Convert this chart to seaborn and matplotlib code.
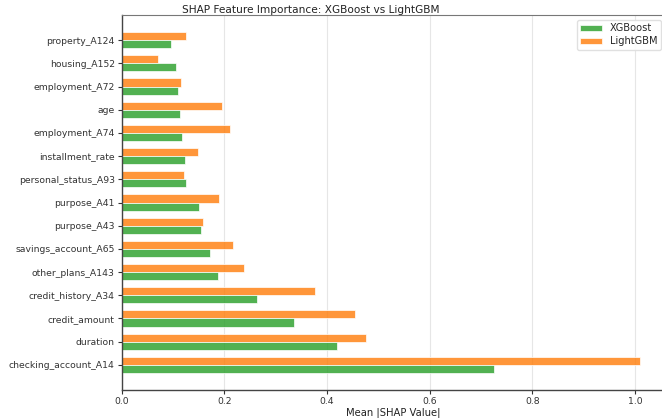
import pandas as pd
import seaborn as sns
import matplotlib.pyplot as plt

# Features, top to bottom as shown
features = [
    "property_A124", "housing_A152", "employment_A72", "age",
    "employment_A74", "installment_rate", "personal_status_A93",
    "purpose_A41", "purpose_A43", "savings_account_A65",
    "other_plans_A143", "credit_history_A34", "credit_amount",
    "duration", "checking_account_A14",
]
xgb_shap = [0.096, 0.105, 0.109, 0.114, 0.118, 0.123, 0.125, 0.151,
            0.155, 0.172, 0.188, 0.264, 0.335, 0.419, 0.726]
lgbm_shap = [0.126, 0.070, 0.116, 0.195, 0.210, 0.148, 0.121, 0.190,
             0.158, 0.216, 0.239, 0.377, 0.454, 0.475, 1.009]
models = ["XGBoost", "LightGBM"]
colors = {"XGBoost": "#2ca02c", "LightGBM": "#ff7f0e"}

# long format for seaborn
df = pd.concat([
    pd.DataFrame({"feature": features, "shap": xgb_shap, "model": "XGBoost"}),
    pd.DataFrame({"feature": features, "shap": lgbm_shap, "model": "LightGBM"}),
])

sns.set_style("ticks")
plt.rcParams["font.family"] = ["DejaVu Sans"]

fig = plt.figure(figsize=(6.62, 4.18), dpi=100)
W, H = 662, 418
ax = fig.add_axes([121.7 / W, 1 - 390 / H, 544 / W, 375 / H])

sns.barplot(data=df, y="feature", x="shap", hue="model", order=features,
            hue_order=["LightGBM", "XGBoost"], palette=colors, orient="h",
            width=0.7, saturation=1, alpha=0.82, edgecolor="white",
            linewidth=0.6, ax=ax)

ax.set_xlim(0, 1.0595)
ax.set_ylim(14 + 1.085, -1.085)
ax.set_xticks([0.0, 0.2, 0.4, 0.6, 0.8, 1.0])
ax.xaxis.grid(True, color="#e6e6e6", linewidth=0.8)
ax.set_axisbelow(True)
ax.tick_params(labelsize=6.7, colors="#333333", length=3, width=0.8, pad=2)
ax.set_ylabel("")
ax.set_xlabel("Mean |SHAP Value|", fontsize=7.2, color="#222222", labelpad=1)
for side in ["left", "bottom"]:
    ax.spines[side].set_color("#444444")
    ax.spines[side].set_linewidth(1.0)
ax.spines["top"].set_color("#777777")
ax.spines["right"].set_color("#777777")

# legend: XGBoost first
handles, labels = ax.get_legend_handles_labels()
order = [labels.index(m) for m in models]
ax.legend([handles[i] for i in order], models, loc="upper right",
          fontsize=7.1, frameon=True, framealpha=0.9, edgecolor="#dddddd",
          borderaxespad=0.5, handlelength=2.2, handleheight=0.6,
          labelspacing=0.3, borderpad=0.35)

fig.text(310.5 / W, 1 - 10 / H, "SHAP Feature Importance: XGBoost vs LightGBM",
         ha="center", va="center", fontsize=7.6, color="#222222")

fig.savefig("out.png", dpi=100)
